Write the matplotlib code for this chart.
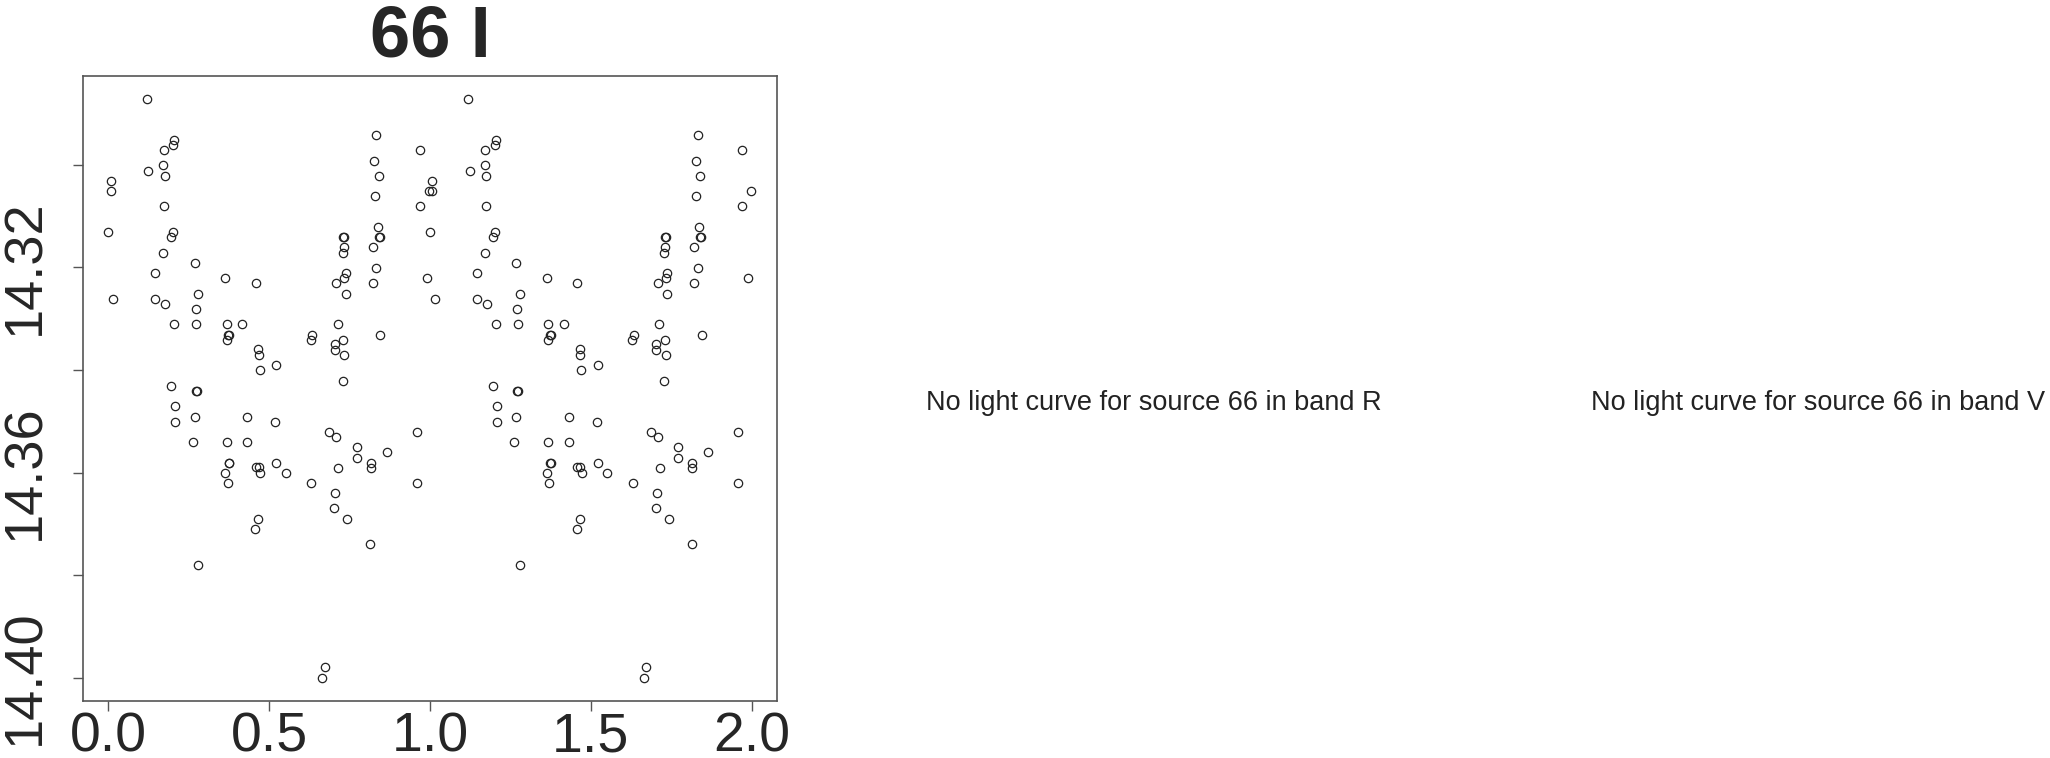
import matplotlib
matplotlib.use("Agg")
import numpy as np
import matplotlib.pyplot as plt
from matplotlib import font_manager

# Folded light curve of source 66, band I (phase in [0, 1), shown twice)
phase = [0.119, 0.205, 0.201, 0.1725, 0.124, 0.170, 0.175, 0.007, 0.007, 0.173,
         0.000, 0.201, 0.196, 0.170, 0.268, 0.145, 0.364, 0.458, 0.014, 0.145,
         0.176, 0.280, 0.271, 0.205, 0.273, 0.368, 0.416, 0.372, 0.376, 0.368,
         0.465, 0.468, 0.470, 0.522, 0.634, 0.629, 0.713, 0.704, 0.704, 0.730,
         0.733, 0.728, 0.196, 0.272, 0.274, 0.730, 0.734, 0.732, 0.729, 0.738,
         0.733, 0.709, 0.738, 0.832, 0.827, 0.841, 0.828, 0.837, 0.841, 0.844,
         0.822, 0.833, 0.822, 0.845, 0.970, 0.970, 0.998, 0.990,
         0.207, 0.207, 0.268, 0.262, 0.368, 0.431, 0.431, 0.518, 0.374, 0.376,
         0.364, 0.371, 0.458, 0.468, 0.472, 0.522, 0.551, 0.466, 0.456, 0.280,
         0.630, 0.687, 0.709, 0.714, 0.705, 0.703, 0.742, 0.772, 0.772, 0.816,
         0.816, 0.865, 0.814, 0.673, 0.664, 0.959, 0.959]
mag = [14.2872, 14.2951, 14.2961, 14.2971, 14.3011, 14.3001, 14.3021, 14.3031, 14.3051, 14.3081,
       14.3131, 14.3131, 14.3141, 14.3171, 14.3191, 14.3211, 14.3221, 14.3231, 14.3261, 14.3261,
       14.3271, 14.3251, 14.3281, 14.3311, 14.3311, 14.3311, 14.3311, 14.3331, 14.3331, 14.3341,
       14.3360, 14.3371, 14.3400, 14.3391, 14.3331, 14.3341, 14.3311, 14.3350, 14.3361, 14.3341,
       14.3371, 14.3421, 14.3431, 14.3441, 14.3441, 14.3141, 14.3141, 14.3161, 14.3171, 14.3211,
       14.3221, 14.3231, 14.3251, 14.2941, 14.2992, 14.3021, 14.3061, 14.3121, 14.3141, 14.3141,
       14.3161, 14.3201, 14.3231, 14.3331, 14.2971, 14.3081, 14.3051, 14.3221,
       14.3471, 14.3501, 14.3491, 14.3541, 14.3541, 14.3491, 14.3541, 14.3501, 14.3581, 14.3581,
       14.3601, 14.3621, 14.3590, 14.3590, 14.3601, 14.3581, 14.3601, 14.3690, 14.3711, 14.3780,
       14.3621, 14.3521, 14.3531, 14.3591, 14.3640, 14.3670, 14.3690, 14.3551, 14.3571, 14.3581,
       14.3591, 14.3560, 14.3740, 14.3980, 14.4000, 14.3521, 14.3621]

source = "66"
band = "I"
missing_bands = ["R", "V"]

x_ticks = [0.0, 0.5, 1.0, 1.5, 2.0]
x_ticklabels = ["0.0", "0.5", "1.0", "1.5", "2.0"]
y_ticks = [14.30, 14.32, 14.34, 14.36, 14.38, 14.40]
y_ticklabels = ["", "14.32", "", "14.36", "", "14.40"]

plt.rcParams['font.family'] = ['Liberation Sans', 'DejaVu Sans']

# the x tick labels look condensed in the original, use the narrow face if present
try:
    font_manager.findfont(font_manager.FontProperties(family='Liberation Sans Narrow'),
                          fallback_to_default=False)
    xlab_family, xlab_size = 'Liberation Sans Narrow', 48
except Exception:
    xlab_family, xlab_size = 'Liberation Sans', 40

W, H = 2050, 758
fig = plt.figure(figsize=(W / 100, H / 100), dpi=100)
ax = fig.add_axes([82.7 / W, 1 - 700.7 / H, (777.3 - 82.7) / W, (700.7 - 75.7) / H])

ph = np.array(phase)
mg = np.array(mag)
ax.plot(np.concatenate([ph, ph + 1]), np.concatenate([mg, mg]), linestyle='none',
        marker='o', markersize=6.0, markerfacecolor='none', markeredgecolor='#222222',
        markeredgewidth=0.9)

ax.set_xlim(-0.08, 2.08)
ax.set_ylim(14.4045, 14.2826)
ax.set_xticks(x_ticks)
ax.set_xticklabels(x_ticklabels, family=xlab_family, fontsize=xlab_size)
ax.set_yticks(y_ticks)
ax.set_yticklabels(y_ticklabels, rotation=90, va='center', fontsize=39)
ax.tick_params(axis='both', length=7.5, width=1.0, color='#555555', labelcolor='#262626')
ax.tick_params(axis='x', pad=0)
ax.tick_params(axis='y', pad=15.5)
for sp in ax.spines.values():
    sp.set_color('#555555')
    sp.set_linewidth(1.2)

ax.set_title(f"{source} {band}", fontsize=52, fontweight='bold', color='#262626', pad=13.5)

fig.text(1154 / W, 1 - 403 / H, f"No light curve for source {source} in band {missing_bands[0]}",
         ha='center', va='center', fontsize=19.5, color='#222222')
fig.text(1818 / W, 1 - 403 / H, f"No light curve for source {source} in band {missing_bands[1]}",
         ha='center', va='center', fontsize=19.5, color='#222222')

fig.savefig("out.png", dpi=100)
